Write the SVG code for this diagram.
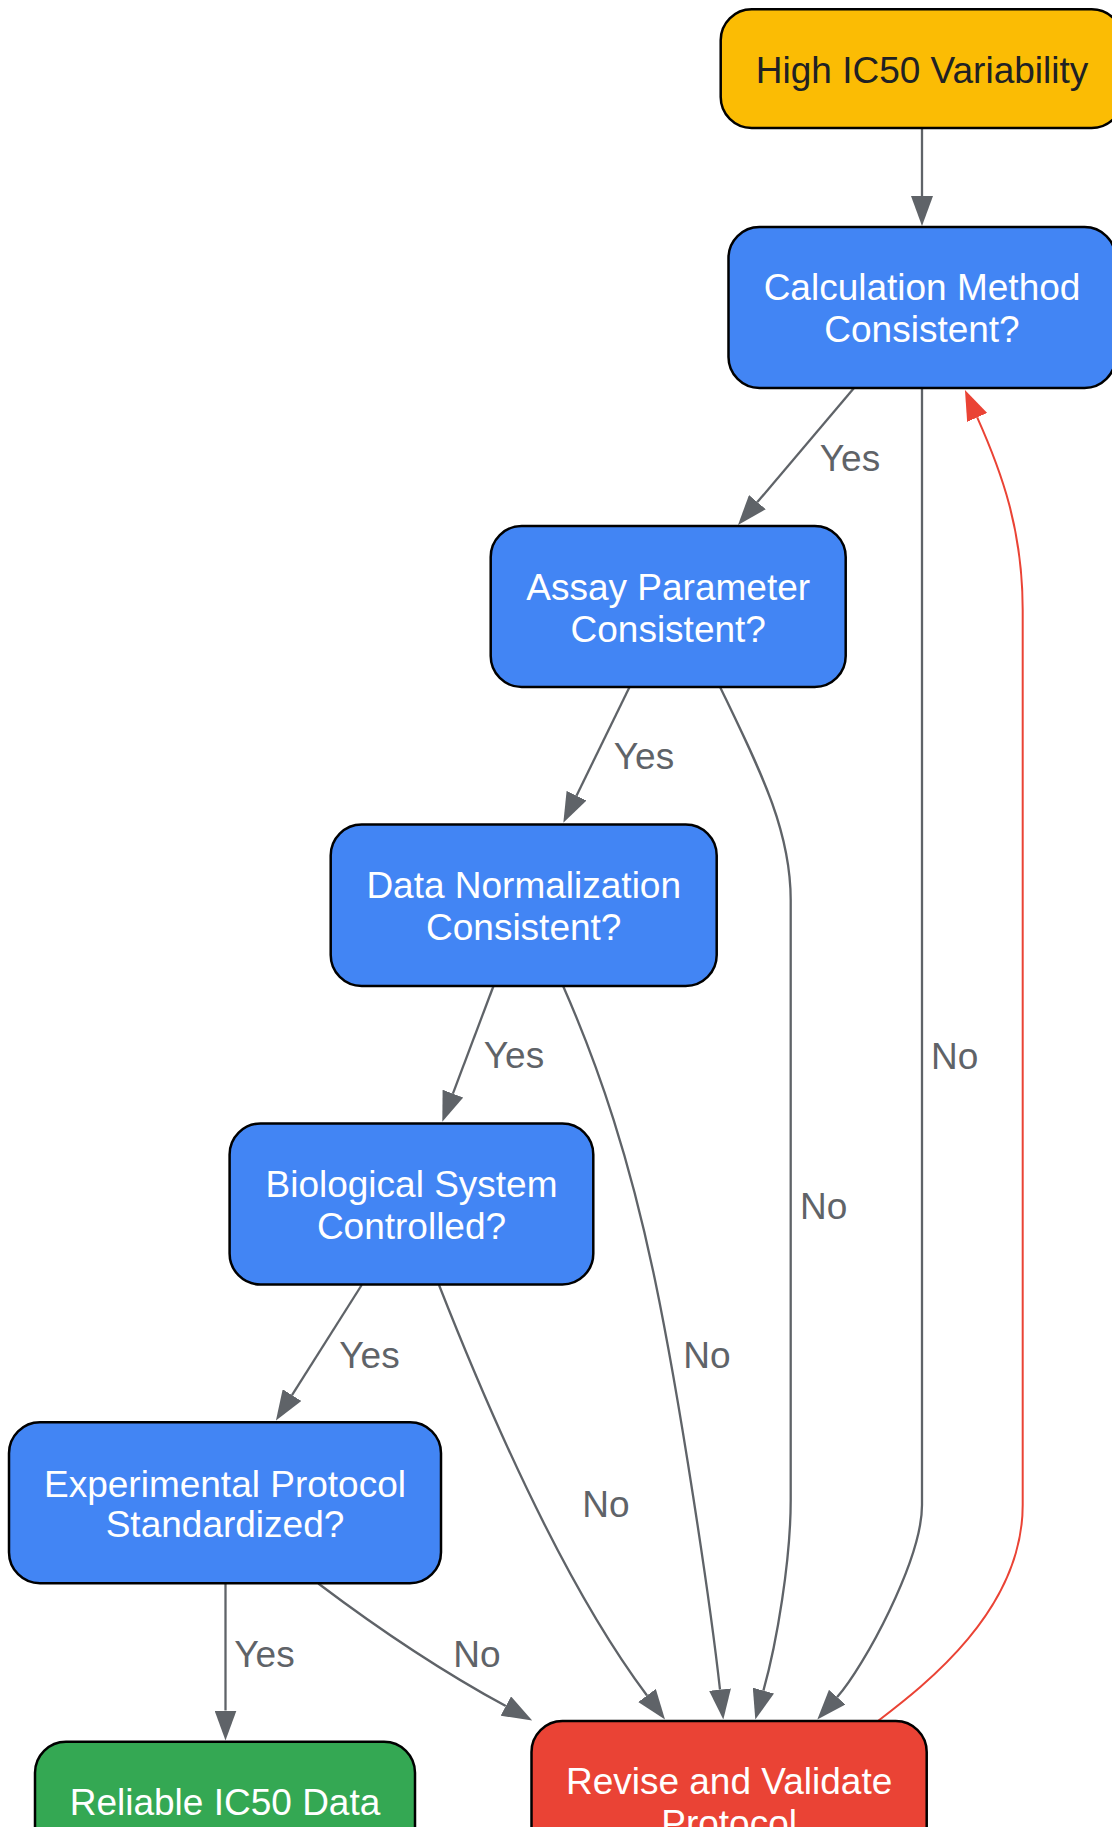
<svg xmlns="http://www.w3.org/2000/svg" width="1112" height="1827" viewBox="0 0 1112 1827">
<style>
.node rect{stroke:#000;stroke-width:2.5}
.node text{font-family:"Liberation Sans",Arial,sans-serif;font-size:37px;text-anchor:middle;fill:#fff}
.edge{fill:none;stroke:#5f6368;stroke-width:2.3}
.back{fill:none;stroke:#ea4335;stroke-width:2}
.lbl{font-family:"Liberation Sans",Arial,sans-serif;font-size:37px;text-anchor:middle;fill:#5f6368}
</style>
<defs>
<marker id="ag" markerUnits="userSpaceOnUse" viewBox="0 0 30 22" markerWidth="30" markerHeight="22" refX="0" refY="11" orient="auto"><path d="M0,0 L30,11 L0,22 z" fill="#5f6368"/></marker>
<marker id="ar" markerUnits="userSpaceOnUse" viewBox="0 0 30 22" markerWidth="30" markerHeight="22" refX="0" refY="11" orient="auto"><path d="M0,0 L30,11 L0,22 z" fill="#ea4335"/></marker>
</defs>
<rect width="1112" height="1827" fill="#fff"/>
<g id="connectors">
<path class="edge" marker-end="url(#ag)" d="M922,128 L922,196"/>
<path class="edge" marker-end="url(#ag)" d="M854,388 L757.4,502.1"/>
<path class="edge" marker-end="url(#ag)" d="M629.3,687.5 L576.5,795.7"/>
<path class="edge" marker-end="url(#ag)" d="M493.3,986.5 L452.9,1093.6"/>
<path class="edge" marker-end="url(#ag)" d="M361.7,1285 L292,1395.1"/>
<path class="edge" marker-end="url(#ag)" d="M225.5,1583.5 L225.5,1710.5"/>
<path class="edge" marker-end="url(#ag)" d="M922,388 L922,1505 C922,1560 863.7,1667.2 837.2,1697.1"/>
<path class="edge" marker-end="url(#ag)" d="M720.3,687.5 C760,770 790.7,830 790.7,900 L790.7,1500 C790.7,1560 776.9,1642.5 763.4,1690.6"/>
<path class="edge" marker-end="url(#ag)" d="M563.3,986.5 C600,1070 630,1160 655,1280 C680,1400 710,1600 720,1689.6"/>
<path class="edge" marker-end="url(#ag)" d="M439,1285 C493.9,1424.5 569,1591.5 647,1695.5"/>
<path class="edge" marker-end="url(#ag)" d="M318.3,1583.5 C360,1615 430,1665 505.8,1706.1"/>
<path class="back" marker-end="url(#ar)" d="M878.3,1720.7 C925,1685 1022.7,1610 1022.7,1505 L1022.7,610 C1022.7,530 1001.7,472.2 977.2,417.4"/>
<text class="lbl" x="850" y="470.7">Yes</text>
<text class="lbl" x="644" y="769.3">Yes</text>
<text class="lbl" x="514" y="1068.3">Yes</text>
<text class="lbl" x="369.5" y="1368.3">Yes</text>
<text class="lbl" x="264.5" y="1666.7">Yes</text>
<text class="lbl" x="954.7" y="1069.3">No</text>
<text class="lbl" x="823.7" y="1219.3">No</text>
<text class="lbl" x="707" y="1368.3">No</text>
<text class="lbl" x="606" y="1516.7">No</text>
<text class="lbl" x="477" y="1666.7">No</text>
</g>
<g id="high" class="node"><rect x="720.7" y="9.3" width="402" height="118.7" rx="31" fill="#fbbc04"/><text x="922" y="83.3" style="fill:#202124">High IC50 Variability</text></g>
<g id="calc" class="node"><rect x="728.5" y="227" width="387" height="161" rx="31" fill="#4285f4"/><text x="922" y="300">Calculation Method</text><text x="922" y="341.7">Consistent?</text></g>
<g id="assay" class="node"><rect x="490.7" y="526" width="355" height="161" rx="31" fill="#4285f4"/><text x="668.2" y="600">Assay Parameter</text><text x="668.2" y="641.7">Consistent?</text></g>
<g id="norm" class="node"><rect x="330.7" y="824.5" width="386" height="161.5" rx="31" fill="#4285f4"/><text x="523.7" y="898.3">Data Normalization</text><text x="523.7" y="940">Consistent?</text></g>
<g id="bio" class="node"><rect x="229.6" y="1123.5" width="363.7" height="161" rx="31" fill="#4285f4"/><text x="411.5" y="1197">Biological System</text><text x="411.5" y="1239">Controlled?</text></g>
<g id="exp" class="node"><rect x="9" y="1422.3" width="432" height="161" rx="31" fill="#4285f4"/><text x="225" y="1496.7">Experimental Protocol</text><text x="225" y="1537.3">Standardized?</text></g>
<g id="reliable" class="node"><rect x="35" y="1741.7" width="380" height="118" rx="31" fill="#34a853"/><text x="225" y="1815">Reliable IC50 Data</text></g>
<g id="revise" class="node"><rect x="531.5" y="1721" width="395.2" height="161" rx="31" fill="#ea4335"/><text x="729.1" y="1794">Revise and Validate</text><text x="729.1" y="1836">Protocol</text></g>
</svg>
